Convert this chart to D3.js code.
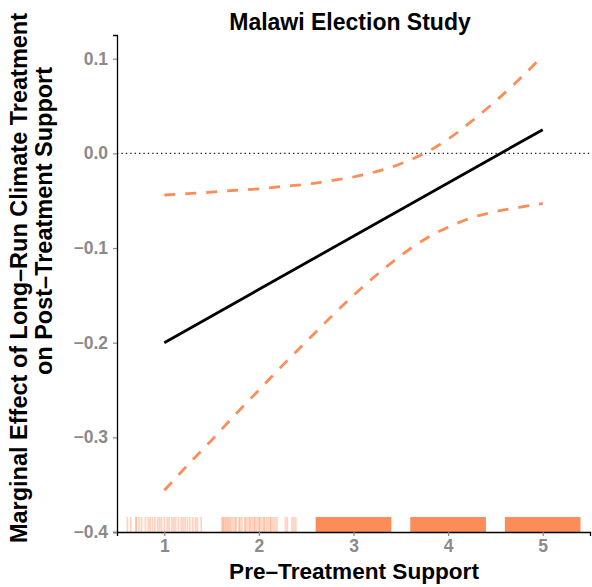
<!DOCTYPE html>
<html>
<head>
<meta charset="utf-8">
<script src="https://cdn.jsdelivr.net/npm/d3@7"></script>
<style>
  html, body { margin: 0; padding: 0; background: #fff; }
  svg { display: block; font-family: "Liberation Sans", Arial, Helvetica, sans-serif; }
</style>
</head>
<body>
<svg id="chart" width="592" height="587"></svg>
<script>
// ---- data ----
const title = "Malawi Election Study";
const xLabel = "Pre\u2013Treatment Support";
const yLabelLines = ["Marginal Effect of Long\u2013Run Climate Treatment", "on Post\u2013Treatment Support"];

const xTicks = [1, 2, 3, 4, 5];
const yTicks = [0.1, 0.0, -0.1, -0.2, -0.3, -0.4];

// marginal effect (straight line) endpoints
const effectX = [1, 5];
const effectY = [-0.200, 0.025];

// confidence band, read along the x axis
const ciX     = [1, 1.25, 1.5, 1.75, 2, 2.25, 2.5, 2.75, 3, 3.25, 3.5, 3.75, 4, 4.25, 4.5, 4.75, 5];
const ciUpper = [-0.044, -0.0425, -0.041, -0.039, -0.0375, -0.035, -0.0326, -0.029, -0.025, -0.019, -0.011, 0.000, 0.015, 0.034, 0.055, 0.078, 0.103];
const ciLower = [-0.356, -0.329, -0.303, -0.276, -0.250, -0.224, -0.199, -0.174, -0.150, -0.128, -0.108, -0.091, -0.078, -0.068, -0.0615, -0.057, -0.053];

// rug: sparse observations for support = 1 and 2 (jittered positions)
const rugSparse = [
  0.61, 0.645, 0.70, 0.705, 0.735, 0.76, 0.80, 0.83, 0.85, 0.875, 0.90, 0.93, 0.95, 0.97, 1.00, 1.03,
  1.05, 1.08, 1.10, 1.12, 1.15, 1.18, 1.20, 1.22, 1.245, 1.27, 1.30, 1.33, 1.35, 1.39,
  1.61, 1.62, 1.63, 1.645, 1.655, 1.67, 1.68, 1.695, 1.71, 1.73, 1.75, 1.76, 1.79, 1.80, 1.82,
  1.85, 1.86, 1.88, 1.90, 1.91, 1.93, 1.95, 1.96, 1.98, 2.00, 2.01, 2.03, 2.05, 2.06, 2.08, 2.10,
  2.12, 2.13, 2.15, 2.17, 2.19, 2.28, 2.30, 2.35, 2.37, 2.39
];
// rug: dense groups (support = 3, 4, 5) fill their whole jitter window
const rugDenseGroups = [3, 4, 5];
const rugJitter = 0.4;

// ---- layout ----
const svg = d3.select("#chart");
const margin = { left: 117, right: 2, top: 35, bottom: 55 };
const W = 592, H = 587;

const x = d3.scaleLinear().domain([0.5, 5.5]).range([margin.left, W - margin.right]);
const y = d3.scaleLinear().domain([-0.4, 0.125]).range([H - margin.bottom, margin.top]);

const orange = "#fc8d59";
const tickGrey = "#8a8a8a";

// rug
const rugLen = 15;
svg.append("g").selectAll("rect").data(rugDenseGroups).join("rect")
  .attr("x", d => x(d - rugJitter))
  .attr("width", d => x(d + rugJitter) - x(d - rugJitter))
  .attr("y", y(-0.4) - rugLen)
  .attr("height", rugLen)
  .attr("fill", orange);

svg.append("g").selectAll("line").data(rugSparse).join("line")
  .attr("x1", d => x(d)).attr("x2", d => x(d))
  .attr("y1", y(-0.4) - rugLen).attr("y2", y(-0.4))
  .attr("stroke", orange)
  .attr("stroke-width", 1.8)
  .attr("stroke-opacity", 0.38);

// zero reference line
svg.append("line")
  .attr("x1", x(0.5)).attr("x2", x(5.5))
  .attr("y1", y(0)).attr("y2", y(0))
  .attr("stroke", "#222")
  .attr("stroke-width", 1.4)
  .attr("stroke-dasharray", "1.4,3");

// confidence band lines
const ciLine = d3.line().x(d => x(d[0])).y(d => y(d[1])).curve(d3.curveMonotoneX);
[ciUpper, ciLower].forEach(vals => {
  svg.append("path")
    .attr("d", ciLine(ciX.map((v, i) => [v, vals[i]])))
    .attr("fill", "none")
    .attr("stroke", orange)
    .attr("stroke-width", 2.8)
    .attr("stroke-dasharray", "11,10");
});

// effect line
svg.append("path")
  .attr("d", d3.line().x(d => x(d[0])).y(d => y(d[1]))(effectX.map((v, i) => [v, effectY[i]])))
  .attr("fill", "none")
  .attr("stroke", "#000")
  .attr("stroke-width", 2.8);

// axes
const xAxis = d3.axisBottom(x).tickValues(xTicks).tickFormat(d3.format("d")).tickSize(4).tickPadding(4);
const gx = svg.append("g").attr("transform", `translate(0,${y(-0.4)})`).call(xAxis);
gx.select(".domain").attr("stroke", "#000").attr("stroke-width", 1.3);
gx.selectAll(".tick line").attr("stroke", tickGrey).attr("stroke-width", 1.2);
gx.selectAll(".tick text").attr("fill", tickGrey).attr("font-size", 17.5).attr("font-weight", "bold")
  .attr("font-family", "'Liberation Sans', Arial, sans-serif");

const yAxis = d3.axisLeft(y).tickValues(yTicks)
  .tickFormat(d => d3.format(".1f")(d).replace("-", "\u2212")).tickSize(4).tickPadding(5);
const gy = svg.append("g").attr("transform", `translate(${x(0.5)},0)`).call(yAxis);
gy.select(".domain").attr("stroke", "#000").attr("stroke-width", 1.3);
gy.selectAll(".tick line").attr("stroke", tickGrey).attr("stroke-width", 1.2);
gy.selectAll(".tick text").attr("fill", tickGrey).attr("font-size", 17.5).attr("font-weight", "bold")
  .attr("font-family", "'Liberation Sans', Arial, sans-serif");

// title
svg.append("text")
  .attr("x", 350).attr("y", 30)
  .attr("text-anchor", "middle")
  .attr("font-size", 23).attr("font-weight", "bold").attr("fill", "#000")
  .text(title);

// x label
svg.append("text")
  .attr("x", 354).attr("y", 579)
  .attr("text-anchor", "middle")
  .attr("font-size", 22.6).attr("font-weight", "bold").attr("fill", "#000")
  .text(xLabel);

// y label (two lines, rotated)
const yLabPos = [{ bx: 27, cy: 278 }, { bx: 52, cy: 221 }];
yLabelLines.forEach((t, i) => {
  svg.append("text")
    .attr("transform", `translate(${yLabPos[i].bx},${yLabPos[i].cy}) rotate(-90)`)
    .attr("text-anchor", "middle")
    .attr("font-size", 23.5).attr("font-weight", "bold").attr("fill", "#000")
    .text(t);
});
</script>
</body>
</html>
